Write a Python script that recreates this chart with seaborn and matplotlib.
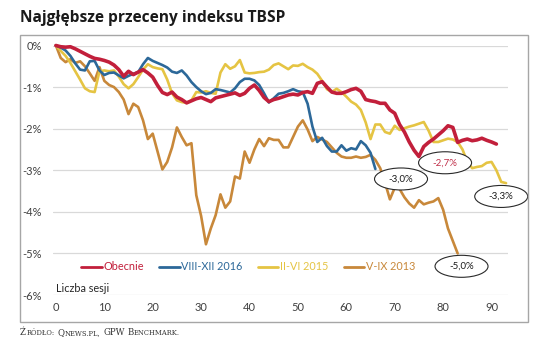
import matplotlib
matplotlib.use("Agg")
import matplotlib.pyplot as plt
from matplotlib.lines import Line2D
from matplotlib.patches import Ellipse, Rectangle
import pandas as pd
import seaborn as sns

# Cumulative change of the TBSP index (%) by session number
obecnie = [
    0.00, -0.03, -0.04, -0.03, -0.08, -0.14, -0.20, -0.26, -0.31, -0.33,
    -0.36, -0.40, -0.47, -0.58, -0.74, -0.62, -0.70, -0.64, -0.58, -0.66,
    -0.76, -0.96, -1.13, -1.18, -1.12, -1.24, -1.30, -1.38, -1.33, -1.28,
    -1.25, -1.30, -1.35, -1.26, -1.23, -1.20, -1.17, -1.14, -1.20, -1.15,
    -1.03, -0.95, -1.08, -1.25, -1.35, -1.30, -1.27, -1.23, -1.19, -1.17,
    -1.19, -1.13, -1.11, -1.15, -0.91, -0.87, -1.00, -1.12, -1.15, -1.15,
    -1.11, -1.06, -1.03, -1.10, -1.30, -1.33, -1.35, -1.39, -1.39, -1.55,
    -1.63, -1.90, -2.08, -2.32, -2.52, -2.67, -2.43, -2.33, -2.25, -2.15,
    -2.05, -1.93, -1.97, -2.33, -2.28, -2.25, -2.29, -2.27, -2.23, -2.28,
    -2.32, -2.37,
]
viii_xii_2016 = [
    0.00, -0.05, -0.12, -0.25, -0.43, -0.58, -0.60, -0.38, -0.37, -0.60,
    -0.71, -0.66, -0.65, -0.72, -0.79, -0.73, -0.68, -0.64, -0.45, -0.30,
    -0.37, -0.42, -0.47, -0.53, -0.63, -0.66, -0.60, -0.72, -0.88, -1.00,
    -1.10, -1.17, -1.14, -1.05, -1.07, -1.10, -1.13, -1.03, -0.88, -0.80,
    -0.80, -0.84, -0.95, -1.15, -1.37, -1.27, -1.16, -1.14, -1.10, -1.05,
    -1.10, -1.12, -1.40, -1.95, -2.32, -2.22, -2.42, -2.55, -2.55, -2.40,
    -2.53, -2.47, -2.50, -2.30, -2.40, -2.58, -2.97,
]
ii_vi_2015 = [
    0.00, -0.13, -0.25, -0.42, -0.62, -0.82, -1.03, -1.10, -1.12, -0.62,
    -0.60, -0.62, -0.60, -0.75, -0.93, -1.03, -0.93, -0.76, -0.58, -0.45,
    -0.52, -0.55, -0.57, -0.82, -1.15, -1.32, -1.36, -1.38, -1.32, -1.12,
    -1.13, -1.10, -1.14, -1.16, -0.65, -0.45, -0.56, -0.50, -0.35, -0.65,
    -0.67, -0.66, -0.64, -0.63, -0.58, -0.47, -0.43, -0.50, -0.57, -0.48,
    -0.49, -0.44, -0.52, -0.58, -0.68, -0.85, -1.05, -1.12, -1.04, -1.12,
    -1.23, -1.35, -1.42, -1.55, -1.85, -2.25, -1.90, -1.90, -2.08, -2.12,
    -1.93, -2.03, -1.99, -1.95, -1.92, -1.88, -1.84, -2.05, -2.32, -2.32,
    -2.28, -2.24, -2.26, -2.32, -2.50, -2.80, -2.95, -2.92, -2.90, -2.82,
    -2.80, -3.00, -3.28, -3.31,
]
v_ix_2013 = [
    0.00, -0.30, -0.40, -0.33, -0.42, -0.38, -0.50, -0.67, -0.85, -0.52,
    -0.85, -0.95, -1.00, -1.12, -1.30, -1.65, -1.40, -1.48, -1.80, -2.25,
    -2.12, -2.55, -2.98, -2.80, -2.45, -1.97, -2.20, -2.40, -2.35, -3.60,
    -4.10, -4.78, -4.40, -4.08, -3.58, -3.90, -3.75, -3.15, -3.20, -2.55,
    -2.82, -2.50, -2.25, -2.42, -2.23, -2.27, -2.27, -2.45, -2.45, -2.20,
    -1.95, -1.80, -2.02, -2.30, -2.20, -2.26, -2.32, -2.45, -2.58, -2.67,
    -2.70, -2.70, -2.67, -2.70, -2.68, -2.63, -2.75, -2.95, -3.30, -3.70,
    -3.42, -3.45, -3.65, -3.80, -3.90, -3.72, -3.82, -3.78, -3.75, -3.67,
    -3.95, -4.40, -4.70, -5.00,
]

series_names = ["Obecnie", "VIII-XII 2016", "II-VI 2015", "V-IX 2013"]
series_values = [obecnie, viii_xii_2016, ii_vi_2015, v_ix_2013]
series_colors = ["#C21F3B", "#2C6899", "#E5C443", "#C8883A"]
x_ticks = list(range(0, 91, 10))
y_ticks = [0, -1, -2, -3, -4, -5, -6]

df = pd.concat(
    [pd.DataFrame({"sesja": range(len(v)), "zmiana": v, "okres": n})
     for n, v in zip(series_names, series_values)],
    ignore_index=True,
)

sns.set_theme(style="white")
plt.rcParams["font.family"] = ["Lato", "DejaVu Sans"]

W, H = 536, 345
fig = plt.figure(figsize=(W / 100, H / 100), dpi=100)
fig.patch.set_facecolor("white")


def box(x0, y0, x1, y1):
    return [x0 / W, 1 - y1 / H, (x1 - x0) / W, (y1 - y0) / H]


AX_L, AX_T, AX_R, AX_B = 53, 45.5, 508, 295
XMIN, XMAX = -0.6, 93.4
YMIN, YMAX = -6.0, 0.0
ax = fig.add_axes(box(AX_L, AX_T, AX_R, AX_B))

sns.lineplot(data=df, x="sesja", y="zmiana", hue="okres", hue_order=series_names,
             palette=series_colors, estimator=None, sort=False, legend=False, ax=ax)

widths = [2.6, 1.9, 1.9, 1.9]
zorders = [6, 5, 4, 3]
for line, lw, zo in zip(ax.lines, widths, zorders):
    line.set_linewidth(lw)
    line.set_zorder(zo)
    line.set_clip_on(False)
    line.set_solid_joinstyle("round")

ax.set_xlim(XMIN, XMAX)
ax.set_ylim(YMIN, YMAX)
ax.set_xticks(x_ticks)
ax.set_xticklabels([str(v) for v in x_ticks])
ax.set_yticks(y_ticks)
ax.set_yticklabels([f"{v:d}%" for v in y_ticks])
ax.tick_params(axis="both", length=0, labelsize=8, colors="#404040")
ax.tick_params(axis="y", pad=8)
ax.tick_params(axis="x", pad=5)
ax.set_xlabel("")
ax.set_ylabel("")
ax.grid(axis="y", color="#D9D9D9", linewidth=0.9)
ax.grid(axis="x", visible=False)
ax.set_axisbelow(True)
sns.despine(ax=ax, left=True, bottom=True)

# legend inside the plot, text in series colours
handles = [Line2D([], [], color=c, lw=2) for c in series_colors]
leg = ax.legend(handles, series_names, loc="center", bbox_to_anchor=(0.429, 0.113),
                ncol=4, frameon=False, fontsize=7.8, handlelength=1.9,
                handletextpad=0.15, columnspacing=1.4, borderpad=0.2)
for txt, c in zip(leg.get_texts(), series_colors):
    txt.set_color(c)

fig.text(56 / W, 1 - 288 / H, "Liczba sesji", ha="left", va="center",
         fontsize=7.8, color="#262626")

# oval call-outs with the final / lowest values
px_per_x = (AX_R - AX_L) / (XMAX - XMIN)
px_per_y = (AX_B - AX_T) / (YMAX - YMIN)


def fmt(v):
    return f"{v:.1f}%".replace(".", ",")


callouts = [
    (71.3, -3.21, viii_xii_2016[-1], "#1A1A1A"),
    (80.4, -2.82, min(obecnie), "#C0304A"),
    (92.0, -3.63, ii_vi_2015[-1], "#1A1A1A"),
    (83.8, -5.31, v_ix_2013[-1], "#1A1A1A"),
]
for cx, cy, val, tc in callouts:
    ax.add_patch(Ellipse((cx, cy), width=53 / px_per_x, height=22 / px_per_y,
                         facecolor="white", edgecolor="#2A2A2A", linewidth=0.8,
                         zorder=10, clip_on=False))
    ax.text(cx, cy, fmt(val), ha="center", va="center", fontsize=7,
            color=tc, zorder=11, clip_on=False)

# chart frame
fig.patches.append(Rectangle((20 / W, 1 - 322 / H), 508 / W, 287 / H,
                             transform=fig.transFigure, fill=False,
                             edgecolor="#A6A6A6", linewidth=1.0))

fig.text(20 / W, 1 - 22 / H, "Najgłębsze przeceny indeksu TBSP", ha="left",
         va="baseline", fontsize=11.2, fontweight="bold", color="#1A1A1A",
         family=["Open Sans", "DejaVu Sans"])

# source line in small capitals
renderer = fig.canvas.get_renderer()
big, small = 6.2, 4.9
pieces = [("Ź", big), ("RÓDŁO:", small), (None, big), ("Q", big),
          ("NEWS.PL,", small), (None, big), ("GPW", big), (None, big),
          ("B", big), ("ENCHMARK.", small)]
xpos = 20.0
for text, size in pieces:
    if text is None:
        xpos += size * 0.42
        continue
    t = fig.text(xpos / W, 1 - 335 / H, text, ha="left", va="baseline",
                 fontsize=size, color="#333333",
                 family=["DejaVu Serif"])
    xpos += t.get_window_extent(renderer).width + 0.3

fig.savefig("out.png", dpi=100)
